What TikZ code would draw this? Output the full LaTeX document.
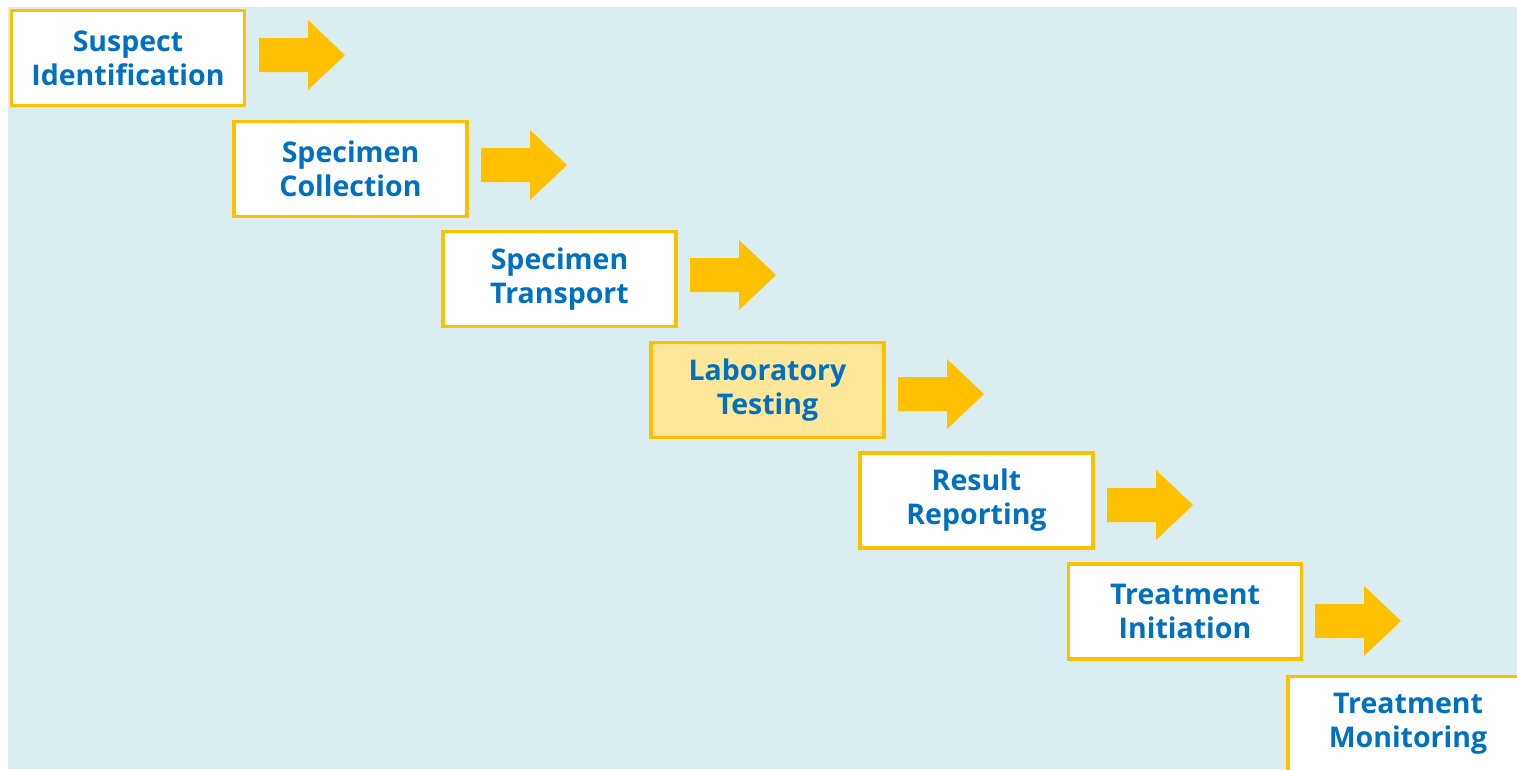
\documentclass[tikz,border=0pt]{standalone}
\usepackage{fontspec}
\setmainfont{Open Sans}
\definecolor{bgc}{HTML}{DAEDF0}
\definecolor{goldc}{HTML}{FFC000}
\definecolor{txtc}{HTML}{0070C0}
\definecolor{hlc}{HTML}{FFE699}
\tikzset{
  stage/.style={draw=goldc, line width=3.2pt, fill=white, minimum width=233pt, minimum height=95pt,
    align=center, inner sep=0pt, text=txtc, font=\fontsize{28.5}{34}\selectfont\bfseries},
  hl/.style={fill=hlc},
  blockarrow/.style={fill=goldc}
}
\newcommand{\blkarrow}[2]{% #1 = left x, #2 = center y
  \fill[blockarrow] (#1,#2-17) -- ++(49,0) -- ++(0,-18) -- ++(37,35) -- ++(-37,35) -- ++(0,-18) -- ++(-49,0) -- cycle;}
\begin{document}
\begin{tikzpicture}[x=1pt,y=-1pt]
\useasboundingbox (0,0) rectangle (1517,769);
\clip (0,0) rectangle (1517,769);
\fill[bgc] (8,7) rectangle (1517,769);
\node[stage] (s1) at (128,58) {Suspect\\Identification};
\node[stage] (s2) at (350.5,169) {Specimen\\Collection};
\node[stage] (s3) at (559.5,279) {Specimen\\Transport};
\node[stage,hl] (s4) at (767.5,390) {Laboratory\\Testing};
\node[stage] (s5) at (976.5,500.5) {Result\\Reporting};
\node[stage] (s6) at (1185,611.5) {Treatment\\Initiation};
\node[stage,minimum width=240pt] (s7) at (1408,724) {Treatment\\Monitoring};
\blkarrow{259}{55}
\blkarrow{481}{165}
\blkarrow{690}{275}
\blkarrow{898}{394}
\blkarrow{1107}{505}
\blkarrow{1315}{621}
\end{tikzpicture}
\end{document}
